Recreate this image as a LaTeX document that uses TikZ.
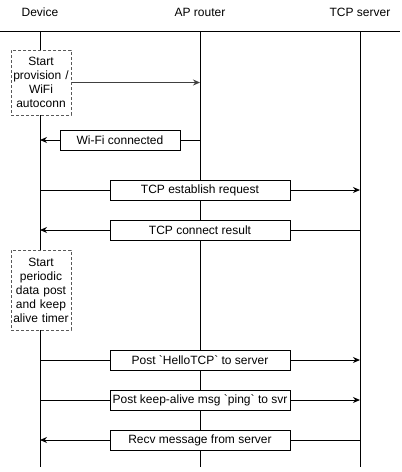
\documentclass[tikz,border=0pt]{standalone}
\usepackage{fontspec}
\setmainfont{Liberation Sans}
\usetikzlibrary{arrows.meta, positioning}

\tikzset{
  actor/.style={font=\fontsize{12}{14}\selectfont},
  msgbox/.style={draw, fill=white, minimum height=20pt, inner sep=0pt,
    font=\fontsize{12}{14}\selectfont},
  notebox/.style={draw=black!65, dash pattern=on 3pt off 2pt, fill=white,
    minimum width=60pt, text width=60pt, inner sep=0pt, align=center,
    font=\fontsize{12}{14}\selectfont},
  msg/.style={-{Stealth[length=7pt,width=6pt]}},
}

\begin{document}
\begin{tikzpicture}[x=1pt, y=-1pt, line width=1pt]
\useasboundingbox (0,0) rectangle (402,472);

% participants
\node[actor] (dev) at (40,12) {Device};
\node[actor] (ap) at (200,12) {AP router};
\node[actor] (srv) at (360,12) {TCP server};
\draw (0,31) -- (400,31);

% lifelines
\coordinate (devtop) at (40,31);
\coordinate (devbot) at (40,467);
\coordinate (aptop) at (200,31);
\coordinate (apbot) at (200,467);
\coordinate (srvtop) at (360,31);
\coordinate (srvbot) at (360,467);
\draw (devtop) -- (devbot);
\draw (aptop) -- (apbot);
\draw (srvtop) -- (srvbot);

% wifi setup
\node[notebox, minimum height=65pt] (prov) at (41,82.5) {Start\\provision /\\WiFi\\autoconn};
\draw[msg, black!75] (prov) -- (prov -| aptop);

\node[msgbox, minimum width=120pt] (wifi) at (120,140) {Wi-Fi connected};
\draw (aptop |- wifi) -- (wifi);
\draw[msg] (wifi) -- (devtop |- wifi);

% tcp connection
\node[msgbox, minimum width=180pt] (req) at (200,190) {TCP establish request};
\draw (devtop |- req) -- (req);
\draw[msg] (req) -- (srvtop |- req);

\node[msgbox, minimum width=180pt] (res) at (200,230) {TCP connect result};
\draw (srvtop |- res) -- (res);
\draw[msg] (res) -- (devtop |- res);

% data exchange
\node[notebox, minimum height=80pt] (timer) at (41,290) {Start\\periodic\\data post\\and keep\\alive timer};

\node[msgbox, minimum width=180pt] (hello) at (200,360) {Post \textasciigrave HelloTCP\textasciigrave{} to server};
\draw (devtop |- hello) -- (hello);
\draw[msg] (hello) -- (srvtop |- hello);

\node[msgbox, minimum width=180pt] (ping) at (200,400) {Post keep-alive msg \textasciigrave ping\textasciigrave{} to svr};
\draw (devtop |- ping) -- (ping);
\draw[msg] (ping) -- (srvtop |- ping);

\node[msgbox, minimum width=180pt] (recv) at (200,440) {Recv message from server};
\draw (srvtop |- recv) -- (recv);
\draw[msg] (recv) -- (devtop |- recv);
\end{tikzpicture}
\end{document}
